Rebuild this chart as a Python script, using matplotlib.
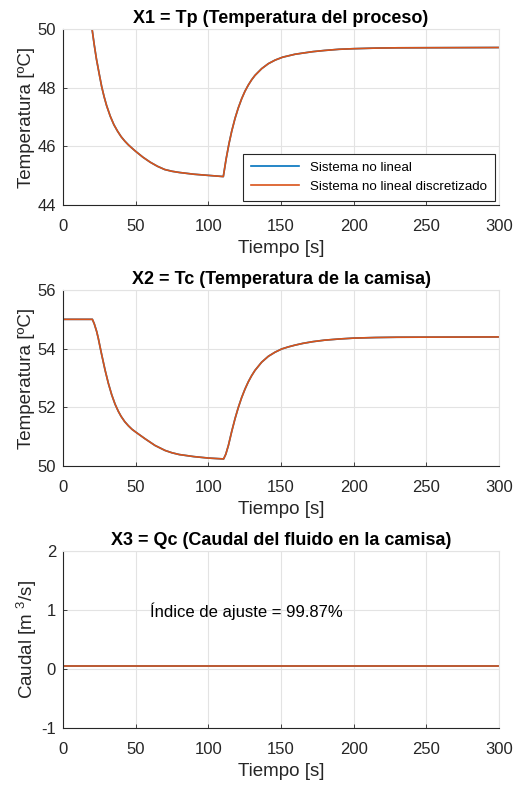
import matplotlib.pyplot as plt

# === Data ===
t_tp = [0, 20, 21.5, 23, 24.8, 26.6, 28.3, 30, 32.5, 35, 37.5, 40, 42.5, 45, 47,
        50, 55, 60, 65, 70, 75, 80, 90, 100, 110.3,
        112.2, 114.2, 116.1, 118.4, 120.6, 122.9, 125.2, 127.5, 129.8, 132.1, 136.7,
        141.3, 145.9, 151.1, 159.6, 165, 172, 180, 190, 200, 215, 230, 300]
tp_nl = [50, 50, 49.46, 48.98, 48.5, 48.04, 47.69, 47.39, 47.03, 46.74, 46.52, 46.33,
         46.18, 46.05, 45.96, 45.83, 45.63, 45.46, 45.32, 45.21, 45.15, 45.11, 45.05,
         45.01, 44.97,
         45.56, 46.09, 46.52, 46.96, 47.31, 47.62, 47.88, 48.09, 48.27, 48.42, 48.65,
         48.82, 48.94, 49.04, 49.14, 49.18, 49.23, 49.27, 49.31, 49.33, 49.35, 49.36,
         49.37]
tp_d = list(tp_nl)

t_tc = [0, 20.2, 21.5, 23.2, 24.3, 25.5, 26.6, 28.9, 31.2, 33.5, 35.8, 38.1, 40, 42.5,
        45, 47.5, 50.2, 56.4, 63.3, 70.2, 75, 80, 90, 100, 110.5,
        112, 113.8, 116.1, 118.4, 120.6, 122.9, 125.2, 127.5, 129.8, 132.1, 136.7,
        141.3, 145.9, 150.5, 155, 159.6, 165, 172, 180, 190, 200, 215, 230, 300]
tc_nl = [55, 55, 54.85, 54.58, 54.35, 54.06, 53.8, 53.28, 52.82, 52.43, 52.11, 51.86,
         51.69, 51.51, 51.37, 51.25, 51.15, 50.93, 50.7, 50.53, 50.45, 50.39, 50.32,
         50.27, 50.24,
         50.4, 50.7, 51.18, 51.62, 51.99, 52.33, 52.62, 52.87, 53.08, 53.26, 53.54,
         53.74, 53.88, 53.99, 54.06, 54.12, 54.18, 54.24, 54.29, 54.33, 54.36, 54.38,
         54.39, 54.4]
tc_d = list(tc_nl)

t_qc = [0, 300]
qc_nl = [0.055, 0.055]
qc_d = [0.055, 0.055]

fit_index = 99.87

xticks = [0, 50, 100, 150, 200, 250, 300]

# === Style ===
plt.rcParams['font.family'] = ['Liberation Sans', 'DejaVu Sans']
plt.rcParams['mathtext.fontset'] = 'custom'
plt.rcParams['mathtext.rm'] = 'Liberation Sans'
plt.rcParams['mathtext.it'] = 'Liberation Sans'
plt.rcParams['axes.unicode_minus'] = False

dark = '#262626'
grid_c = '#e3e3e3'
blue = '#0072BD'
orange = '#D95319'

fig = plt.figure(figsize=(5.25, 7.87), dpi=100)
axes = [fig.add_axes([0.12, 0.7395, 0.8305, 0.2236]),
        fig.add_axes([0.12, 0.4079, 0.8305, 0.2236]),
        fig.add_axes([0.12, 0.0750, 0.8305, 0.2249])]


def style(ax, ylim, yticks, title, ylabel):
    ax.set_xlim(0, 300)
    ax.set_ylim(*ylim)
    ax.set_xticks(xticks)
    ax.set_yticks(yticks)
    ax.grid(True, color=grid_c, linewidth=0.8)
    ax.set_axisbelow(True)
    for s in ['top', 'right']:
        ax.spines[s].set_color(grid_c)
    for s in ['left', 'bottom']:
        ax.spines[s].set_color(dark)
        ax.spines[s].set_linewidth(0.8)
    ax.tick_params(direction='in', length=3, width=0.6, colors=dark, labelsize=12)
    ax.tick_params(axis='x', pad=10)
    ax.tick_params(axis='y', pad=5)
    ax.set_title(title, fontsize=13, fontweight='bold', pad=4)
    ax.set_xlabel('Tiempo [s]', fontsize=13.5, color=dark, labelpad=4.5)
    ax.set_ylabel(ylabel, fontsize=13.5, color=dark, labelpad=2)


# --- X1: process temperature ---
ax = axes[0]
ax.plot(t_tp, tp_nl, color=blue, linewidth=1.2, label='Sistema no lineal')
ax.plot(t_tp, tp_d, color=orange, linewidth=1.2, label='Sistema no lineal discretizado')
style(ax, (44, 50), [44, 46, 48, 50], 'X1 = Tp (Temperatura del proceso)',
      'Temperatura [ºC]')
leg = ax.legend(loc='lower right', fontsize=9.6, frameon=True, fancybox=False,
                handlelength=3.6, borderaxespad=0.3, labelspacing=0.5, borderpad=0.6,
                bbox_to_anchor=(1.0, 0.0))
leg.get_frame().set_edgecolor(dark)
leg.get_frame().set_linewidth(0.8)
leg.get_frame().set_alpha(1)

# --- X2: jacket temperature ---
ax = axes[1]
ax.plot(t_tc, tc_nl, color=blue, linewidth=1.2)
ax.plot(t_tc, tc_d, color=orange, linewidth=1.2)
style(ax, (50, 56), [50, 52, 54, 56], 'X2 = Tc (Temperatura de la camisa)',
      'Temperatura [ºC]')

# --- X3: jacket flow ---
ax = axes[2]
ax.plot(t_qc, qc_nl, color=blue, linewidth=1.2)
ax.plot(t_qc, qc_d, color=orange, linewidth=1.2)
style(ax, (-1, 2), [-1, 0, 1, 2], 'X3 = Qc (Caudal del fluido en la camisa)',
      'Caudal [m $^3$/s]')
ax.text(60, 0.97, 'Índice de ajuste = %.2f%%' % fit_index, fontsize=12,
        color='black', va='center', ha='left')

fig.savefig('out.png', dpi=100)
